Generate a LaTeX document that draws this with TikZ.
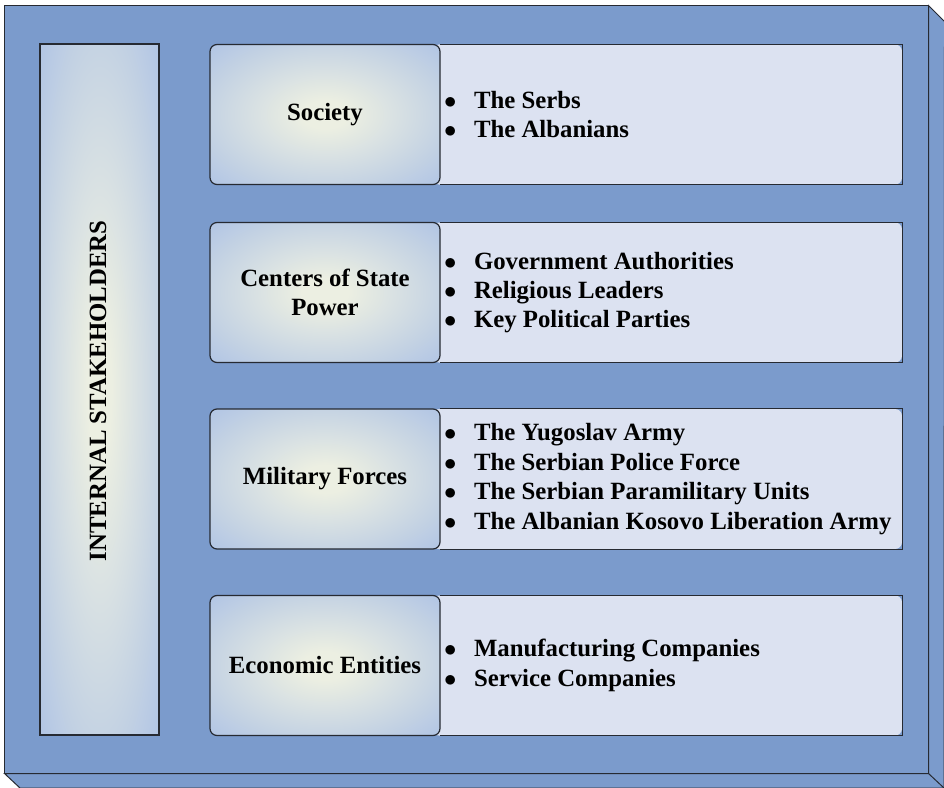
\documentclass[tikz,border=0pt]{standalone}
\usepackage{fontspec}
\setmainfont{Liberation Serif}
\usepackage{tikz}
\usetikzlibrary{positioning}

\definecolor{framebl}{RGB}{123,155,204}
\definecolor{glowin}{RGB}{236,239,226}
\definecolor{glowout}{RGB}{176,196,228}
\definecolor{listbg}{RGB}{220,226,241}
\definecolor{edgegr}{RGB}{38,42,50}
\pgfdeclareradialshading{glow}{\pgfpoint{0bp}{0bp}}{color(0bp)=(glowin); color(5bp)=(glowin); color(36bp)=(glowout); color(50bp)=(glowout)}
\newcommand{\bul}{\hspace*{12bp}\makebox[30bp][l]{$\bullet$}}

\begin{document}
\begin{tikzpicture}[x=1bp,y=-1bp,
  every node/.style={font=\fontsize{24.8bp}{29.4bp}\selectfont\bfseries,
                     execute at begin node={\spaceskip=0pt\xspaceskip=0pt}},
  frame/.style={draw=edgegr,line width=1bp,fill=framebl,minimum width=923bp,minimum height=767bp,inner sep=0pt},
  stake/.style={draw=edgegr,line width=1.2bp,shading=glow,minimum width=119bp,minimum height=691bp,inner sep=0pt},
  head/.style={draw=edgegr,line width=1.2bp,shading=glow,rounded corners=7bp,minimum width=230bp,minimum height=140bp,inner sep=0pt,align=center},
  list/.style={fill=listbg,rounded corners=7bp,minimum height=140bp,text width=470bp,inner xsep=0pt,inner ysep=0pt,align=flush left},
  rim/.style={draw=edgegr,line width=1.2bp}]
  \useasboundingbox (0,0) rectangle (944,788);

  \node[frame] (box) at (466.5,389.5) {};
  \draw[fill=framebl,draw=edgegr,line width=1bp]
        (box.north east) -- ++(16,16) -- (944,788) -- (20,788) -- (box.south west) -- (box.south east) -- cycle;
  \draw[edgegr,line width=1bp] (box.south east) -- (944,788);

  \node[stake] (is) at (99.5,389.5) {};
  \node[rotate=90] (istxt) at (98,391) {INTERNAL STAKEHOLDERS};

  \node[list] (socL) at (667,114.5) {\bul The Serbs\\\bul The Albanians};
  \node[list] (cspL) at (667,292.5) {\bul Government Authorities\\\bul Religious Leaders\\\bul Key Political Parties};
  \node[list] (milL) at (667,479)   {\bul The Yugoslav Army\\\bul The Serbian Police Force\\\bul The Serbian Paramilitary Units\\\bul The Albanian Kosovo Liberation Army};
  \node[list] (ecoL) at (667,665.5) {\bul Manufacturing Companies\\\bul Service Companies};

  \foreach \n in {socL,cspL,milL,ecoL}
    \draw[rim] ([xshift=8bp]\n.north west) -| (\n.south east) -- ([xshift=8bp]\n.south west);

  \node[head] (soc) at (325,114.5) {Society};
  \node[head] (csp) at (325,292.5) {Centers of State\\Power};
  \node[head] (mil) at (325,479)   {Military Forces};
  \node[head] (eco) at (325,665.5) {Economic Entities};
\end{tikzpicture}
\end{document}
